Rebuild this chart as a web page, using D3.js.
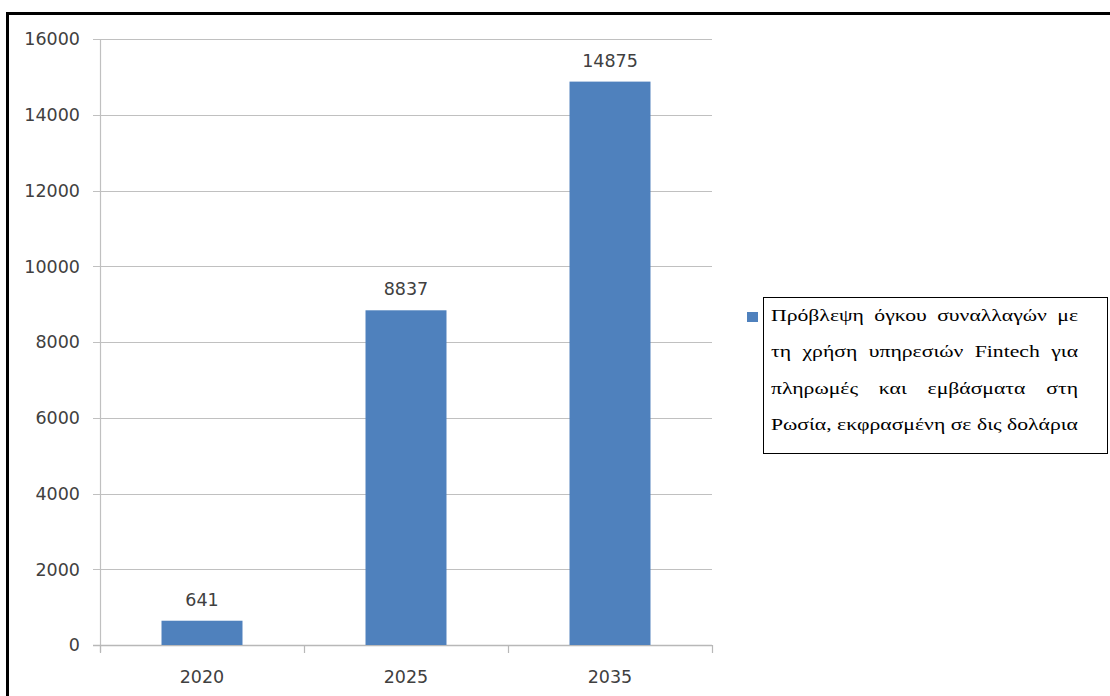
<!DOCTYPE html>
<html><head><meta charset="utf-8">
<script src="https://cdn.jsdelivr.net/npm/d3@7/dist/d3.min.js"></script>
<style>
html,body{margin:0;padding:0;background:#fff;}
svg{display:block;}
</style></head>
<body>
<svg id="chart" width="1110" height="696"></svg>
<script>
const categories = ["2020", "2025", "2035"];
const values = [641, 8837, 14875];
const yTicks = [0, 2000, 4000, 6000, 8000, 10000, 12000, 14000, 16000];
const legendLines = [
  "Πρόβλεψη όγκου συναλλαγών με",
  "τη χρήση υπηρεσιών Fintech για",
  "πληρωμές και εμβάσματα στη",
  "Ρωσία, εκφρασμένη σε δις δολάρια"
];

const svg = d3.select("#chart");
const W = 1110, H = 696;
const plot = {left: 100, right: 712, top: 39, bottom: 645};
const barColor = "#4f81bd";
const gridColor = "#c0c0c0";
const textColor = "#404040";
const sansFont = "DejaVu Sans";

svg.append("rect").attr("width", W).attr("height", H).attr("fill", "#fff");

// frame (top and left thick lines)
svg.append("line").attr("x1", 6).attr("x2", W).attr("y1", 13.5).attr("y2", 13.5)
  .attr("stroke", "#000").attr("stroke-width", 3);
svg.append("line").attr("x1", 7.5).attr("x2", 7.5).attr("y1", 12).attr("y2", H)
  .attr("stroke", "#000").attr("stroke-width", 3);

const y = d3.scaleLinear().domain([0, 16000]).range([plot.bottom, plot.top]);
const x = d3.scaleBand().domain(categories).range([plot.left, plot.right]).padding(0);
const barW = x.bandwidth() * 0.397;

// gridlines
svg.append("g").selectAll("line").data(yTicks.filter(d => d > 0)).join("line")
  .attr("x1", plot.left - 7).attr("x2", plot.right)
  .attr("y1", d => Math.round(y(d)) + 0.5).attr("y2", d => Math.round(y(d)) + 0.5)
  .attr("stroke", gridColor).attr("stroke-width", 1);

// y axis line
svg.append("line").attr("x1", plot.left + 0.5).attr("x2", plot.left + 0.5)
  .attr("y1", plot.top).attr("y2", plot.bottom + 7)
  .attr("stroke", gridColor).attr("stroke-width", 1.2);

// x axis line
svg.append("line").attr("x1", plot.left - 7).attr("x2", plot.right)
  .attr("y1", Math.round(y(0)) + 0.5).attr("y2", Math.round(y(0)) + 0.5)
  .attr("stroke", "#b8b8b8").attr("stroke-width", 1.5);

// x tick marks at band boundaries
const boundaries = categories.map(c => x(c)).concat([plot.right]);
svg.append("g").selectAll("line").data(boundaries).join("line")
  .attr("x1", d => Math.round(d) + 0.5).attr("x2", d => Math.round(d) + 0.5)
  .attr("y1", y(0)).attr("y2", y(0) + 8)
  .attr("stroke", "#b8b8b8").attr("stroke-width", 1.2);

// y tick labels
svg.append("g").selectAll("text").data(yTicks).join("text")
  .attr("x", 80).attr("y", d => y(d)).attr("dy", "0.36em")
  .attr("text-anchor", "end")
  .attr("font-family", sansFont).attr("font-size", 17.5).attr("fill", textColor)
  .text(d => d);

// x labels
svg.append("g").selectAll("text").data(categories).join("text")
  .attr("x", d => x(d) + x.bandwidth() / 2).attr("y", 683)
  .attr("text-anchor", "middle")
  .attr("font-family", sansFont).attr("font-size", 17.5).attr("fill", textColor)
  .text(d => d);

// bars
const data = categories.map((c, i) => ({c, v: values[i]}));
svg.append("g").selectAll("rect").data(data).join("rect")
  .attr("x", d => x(d.c) + x.bandwidth() / 2 - barW / 2)
  .attr("y", d => y(d.v))
  .attr("width", barW)
  .attr("height", d => y(0) - y(d.v))
  .attr("fill", barColor);

// value labels
svg.append("g").selectAll("text").data(data).join("text")
  .attr("x", d => x(d.c) + x.bandwidth() / 2)
  .attr("y", d => y(d.v) - 15)
  .attr("text-anchor", "middle")
  .attr("font-family", sansFont).attr("font-size", 17.5).attr("fill", textColor)
  .text(d => d.v);

// legend
const lg = svg.append("g");
lg.append("rect").attr("x", 747).attr("y", 312).attr("width", 11).attr("height", 10)
  .attr("fill", barColor);
lg.append("rect").attr("x", 763.5).attr("y", 297.5).attr("width", 344).attr("height", 156)
  .attr("fill", "none").attr("stroke", "#000").attr("stroke-width", 1);

const textLeft = 771, textRight = 1078;
const serif = "Liberation Serif";
const fs = 17;
// horizontal stretch so that the last line fills the text width
const probe = lg.append("text").attr("font-family", serif).attr("font-size", fs)
  .text(legendLines[legendLines.length - 1]);
const natW = probe.node().getComputedTextLength();
probe.remove();
const sx = (textRight - textLeft) / natW;
const innerW = (textRight - textLeft) / sx;

const tg = lg.append("g").attr("transform", `translate(${textLeft},0) scale(${sx},1)`);
legendLines.forEach((line, i) => {
  const baseline = 321 + i * 36.5;
  const words = line.split(" ");
  const nodes = words.map(w => tg.append("text")
    .attr("font-family", serif).attr("font-size", fs).attr("fill", "#000")
    .attr("y", baseline).text(w));
  const widths = nodes.map(n => n.node().getComputedTextLength());
  const total = d3.sum(widths);
  const gap = (innerW - total) / (words.length - 1);
  let cx = 0;
  nodes.forEach((n, k) => { n.attr("x", cx); cx += widths[k] + gap; });
});
</script>
</body></html>
